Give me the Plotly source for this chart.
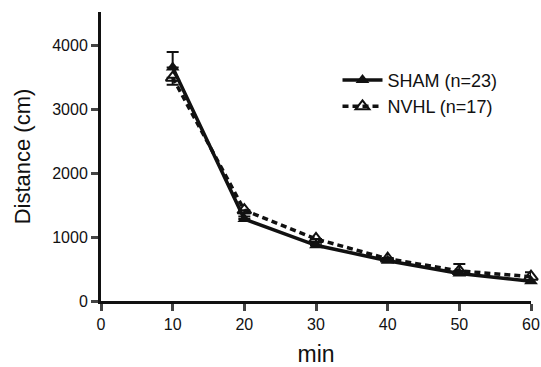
import plotly.graph_objects as go

minutes = [10, 20, 30, 40, 50, 60]
sham = [3650, 1280, 870, 630, 430, 310]
sham_err = [240, 40, 60, 40, 150, 140]
nvhl = [3490, 1420, 970, 660, 470, 380]
nvhl_err = [110, 50, 60, 40, 60, 50]
x_ticks = [0, 10, 20, 30, 40, 50, 60]
y_ticks = [0, 1000, 2000, 3000, 4000]

fig = go.Figure()
fig.add_trace(go.Scatter(
    x=minutes, y=nvhl, name="NVHL (n=17)", mode="lines+markers", legendgroup="b",
    line=dict(color="#111", width=3.5, dash="6px,4px"),
    marker=dict(symbol="triangle-up-open", size=12, color="#111", line=dict(width=2)),
    error_y=dict(type="data", symmetric=False, array=[0]*6, arrayminus=nvhl_err,
                 color="#111", thickness=2, width=6),
    cliponaxis=False,
))
fig.add_trace(go.Scatter(
    x=minutes, y=sham, name="SHAM (n=23)", mode="lines+markers", legendgroup="a",
    line=dict(color="#111", width=3.5),
    marker=dict(symbol="triangle-up", size=12, color="#111"),
    error_y=dict(type="data", symmetric=False, array=sham_err, arrayminus=[0]*6,
                 color="#111", thickness=2, width=6),
    cliponaxis=False,
))

fig.update_layout(
    width=541, height=367,
    margin=dict(l=101, r=10, t=12, b=66),
    paper_bgcolor="white", plot_bgcolor="white",
    font=dict(family="Liberation Sans, Arial, sans-serif", color="#111", size=16),
    showlegend=True,
    legend=dict(x=0.55, y=0.828, xanchor="left", yanchor="top",
                traceorder="reversed", font=dict(size=18),
                bgcolor="rgba(0,0,0,0)", itemwidth=40, tracegroupgap=11),
    xaxis=dict(range=[0, 60], tickvals=x_ticks, ticks="outside", ticklen=7, tickwidth=3,
               showline=True, linewidth=3, linecolor="#111", showgrid=False, zeroline=False,
               automargin=False,
               title=dict(text="min", font=dict(size=23), standoff=15),
               tickfont=dict(size=16)),
    yaxis=dict(range=[0, 4516], tickvals=y_ticks, ticks="outside", ticklen=7, tickwidth=3,
               showline=True, linewidth=3, linecolor="#111", showgrid=False, zeroline=False,
               automargin=False,
               title=dict(text="Distance (cm)", font=dict(size=22), standoff=16),
               tickfont=dict(size=16)),
)

fig.write_html("out.html", config={"displayModeBar": False},
               post_script="document.body.style.margin='0';document.body.style.overflow='hidden';")
